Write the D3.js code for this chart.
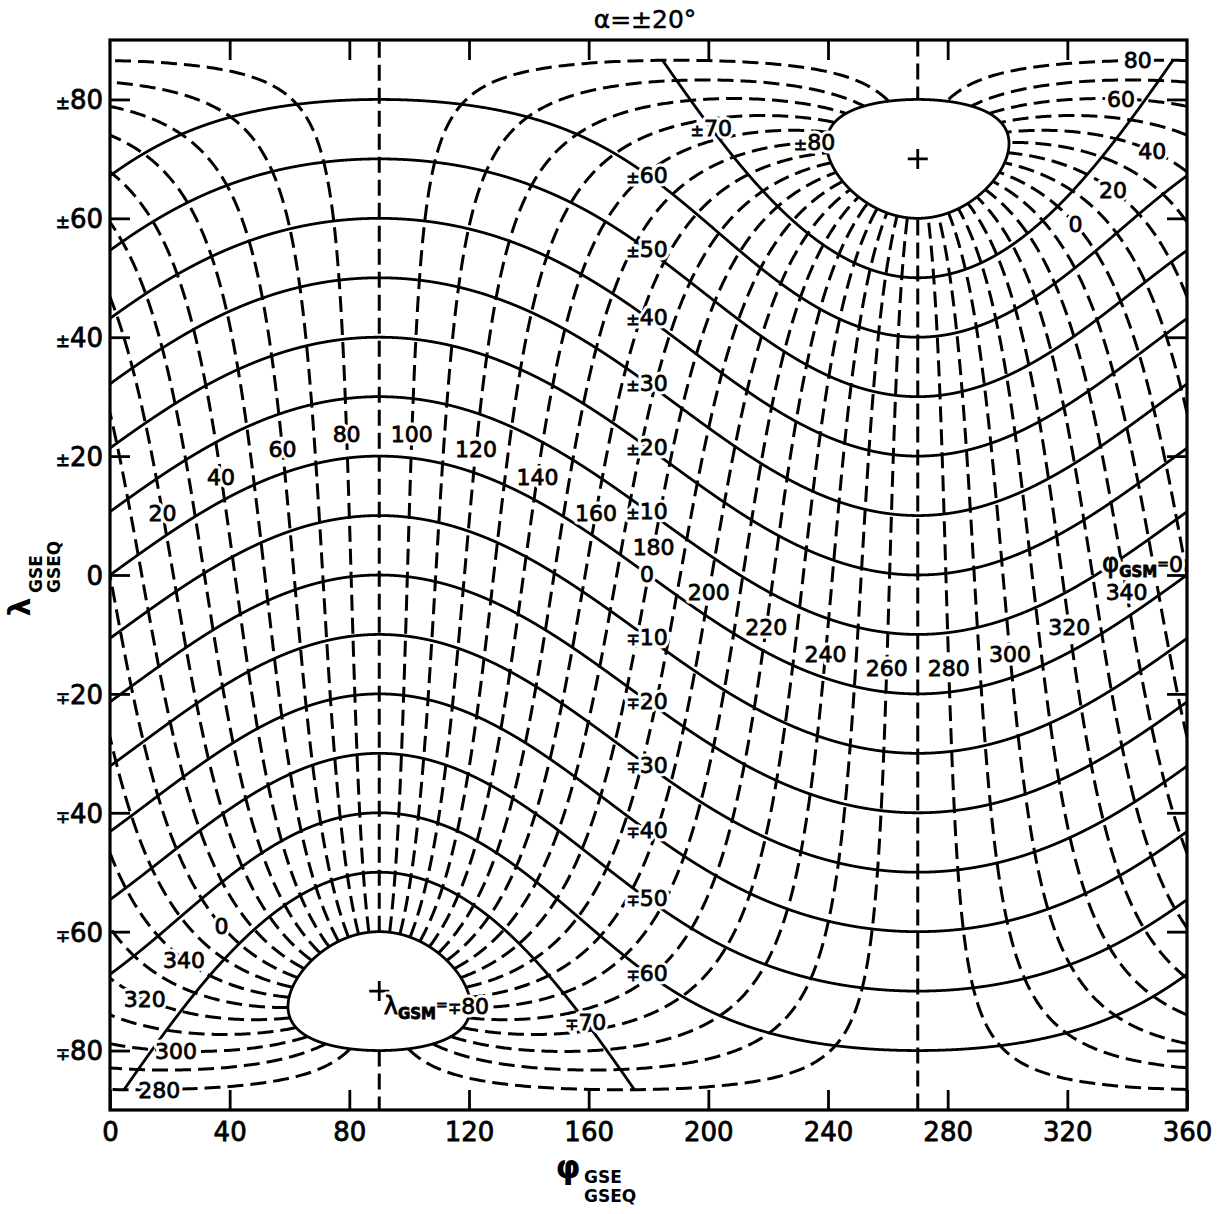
<!DOCTYPE html>
<html><head><meta charset="utf-8">
<script src="https://cdn.jsdelivr.net/npm/d3@7"></script>
<style>body{margin:0;background:#fff}svg{display:block}</style>
</head><body>
<svg id="c" width="1225" height="1214"></svg>
<script>
// ---------- data ----------
const ALPHA = 20; // dipole tilt angle (deg)
const gsmLatitudes = [-80,-70,-60,-50,-40,-30,-20,-10,0,10,20,30,40,50,60,70,80];      // solid lines λGSM
const gsmLongitudes = [0,10,20,30,40,50,60,70,80,90,100,110,120,130,140,150,160,170,
                       180,190,200,210,220,230,240,250,260,270,280,290,300,310,320,330,340,350]; // dashed lines φGSM
const xTickValues = [0,40,80,120,160,200,240,280,320,360];
const yTickValues = [80,60,40,20,0,-20,-40,-60,-80];
const yTickSigns  = ["±","±","±","±","","∓","∓","∓","∓"];
const yTickNums   = ["80","60","40","20","0","20","40","60","80"];
const lonLabelValues = [20,40,60,80,100,120,140,160,180,200,220,240,260,280,300,320,340];
const lonLabelLat = 4;
const northLonLabels = [80,60,40,20,0];
const northLonLabelLats = [70.7,71.4,65.8,65.6,65.8];
const columnLatLabels = [60,50,40,30,20,10,0,-10,-20,-30,-40,-50,-60];

// ---------- setup ----------
const svg = d3.select("#c");
const x = d3.scaleLinear().domain([0,360]).range([110,1187]);
const y = d3.scaleLinear().domain([90,-90]).range([40,1110]);
const rad = Math.PI/180, ca = Math.cos(ALPHA*rad), sa = Math.sin(ALPHA*rad);
const FONT = "DejaVu Sans, Liberation Sans, sans-serif";

function gsmToGse(lon, lat){
  const cl = Math.cos(lat*rad);
  const xp = cl*Math.cos(lon*rad), yp = cl*Math.sin(lon*rad), zp = Math.sin(lat*rad);
  const X = xp, Y = yp*ca - zp*sa, Z = yp*sa + zp*ca;
  if (Math.hypot(X,Y) < 1e-7) return null;
  let phi = Math.atan2(Y,X)/rad; phi = ((phi%360)+360)%360;
  return [phi, Math.asin(Math.max(-1,Math.min(1,Z)))/rad];
}
function latOnLine(v, phi){ // GSE latitude of line λGSM=v at GSE longitude phi
  const A = ca, B = -Math.sin(phi*rad)*sa, R = Math.hypot(A,B), d = Math.atan2(B,A);
  return (Math.asin(Math.sin(v*rad)/R) - d)/rad;
}
function segmentize(pts){
  const segs=[]; let cur=[], prev=null;
  for (const p of pts){
    if (!p){ if(cur.length>1) segs.push(cur); cur=[]; prev=null; continue; }
    if (prev){
      const d = p[0]-prev[0];
      if (Math.abs(d) > 270){
        const eA = d<0?360:0, eB = d<0?0:360, q0 = d<0? p[0]+360 : p[0]-360;
        const t = (eA-prev[0])/(q0-prev[0]);
        const lc = prev[1] + t*(p[1]-prev[1]);
        cur.push([eA,lc]); segs.push(cur); cur=[[eB,lc]];
      } else if (Math.abs(d) > 90){
        if (cur.length>1) segs.push(cur); cur=[];
      }
    }
    cur.push(p); prev=p;
  }
  if (cur.length>1) segs.push(cur);
  return segs;
}
const line = d3.line().x(d=>x(d[0])).y(d=>y(d[1]));

svg.append("clipPath").attr("id","clip").append("rect")
  .attr("x",x(0)).attr("y",y(90)).attr("width",x(360)-x(0)).attr("height",y(-90)-y(90));
const plot = svg.append("g").attr("clip-path","url(#clip)");

// dashed lines: constant φGSM, λGSM in [-80,80]
gsmLongitudes.forEach(lon=>{
  const pts=[];
  for (let k=0;k<=1600;k++){ pts.push(gsmToGse(lon, -80 + k*0.1)); }
  segmentize(pts).forEach(s=>{
    plot.append("path").attr("d",line(s)).attr("fill","none").attr("stroke","#000")
      .attr("stroke-width",3).attr("stroke-dasharray","16,7");
  });
});
// solid lines: constant λGSM
gsmLatitudes.forEach(lat=>{
  let a=0,b=360;
  if (lat===70){a=100;b=440;} if (lat===-70){a=280;b=620;}
  const n=Math.round((b-a)/0.1), pts=[];
  for (let k=0;k<=n;k++){ pts.push(gsmToGse(a+k*0.1, lat)); }
  segmentize(pts).forEach(s=>{
    plot.append("path").attr("d",line(s)).attr("fill","none").attr("stroke","#000")
      .attr("stroke-width",2.8);
  });
});

// pole markers
[90,-90].forEach(lat=>{
  const p = gsmToGse(0,lat), cx=x(p[0]), cy=y(p[1]);
  svg.append("path").attr("d",`M${cx-10},${cy}H${cx+10}M${cx},${cy-10}V${cy+10}`)
    .attr("stroke","#000").attr("stroke-width",2.8);
});

// ---------- labels ----------
const labels = svg.append("g");
function addLabel(cx, cy, parts, size, anchor){
  const base = cy + 0.36*size;
  [true,false].forEach(halo=>{
    const t = labels.append("text").attr("x",cx).attr("y",base)
      .attr("text-anchor",anchor||"middle").attr("font-family",FONT).attr("font-size",size);
    if (halo) t.attr("fill","#fff").attr("stroke","#fff").attr("stroke-width",7).attr("stroke-linejoin","round");
    else t.attr("fill","#000").attr("stroke","#000").attr("stroke-width",0.8);
    parts.forEach(pt=>{
      const s = t.append("tspan").text(pt.t);
      if (pt.size) s.attr("font-size",pt.size);
      if (pt.dy) s.attr("dy",pt.dy);
      if (pt.bold) s.attr("font-weight","bold");
    });
  });
}
function signParts(v){
  const parts=[];
  if (v>0) parts.push({t:"±",size:16}); else if (v<0) parts.push({t:"∓",size:16});
  parts.push({t:String(Math.abs(v))});
  return parts;
}
// dashed-line labels near the GSM equator
lonLabelValues.forEach(v=>{
  const p = gsmToGse(v, v===180?5:lonLabelLat);
  addLabel(x(p[0]), y(p[1]), [{t:String(v)}], 22);
});
// dashed-line labels near the poles (north, mirrored south)
northLonLabels.forEach((v,i)=>{
  const pn = gsmToGse(v, northLonLabelLats[i]);
  addLabel(x(pn[0]), y(pn[1]), [{t:String(v)}], 22);
  const vs = (360-v)%360, ps = gsmToGse(vs, -northLonLabelLats[i]);
  addLabel(x(ps[0]), y(ps[1]), [{t:String(vs)}], 22);
});
// solid-line labels
columnLatLabels.forEach(v=>{
  const phi = 179.5;
  addLabel(x(phi), y(latOnLine(v,phi)), signParts(v), 22);
});
addLabel(x(201), y(latOnLine(70,201)), signParts(70), 22);
addLabel(x(159), y(latOnLine(-70,159)), signParts(-70), 22);
addLabel(x(235.5), y(72.8), signParts(80), 22);
// λGSM=∓80 on the southern boundary
addLabel(x(91.5), y(-72.5), [{t:"λ",size:24},{t:"GSM",size:15,dy:5,bold:true},{t:"=",size:14,dy:-9},{t:"∓",size:16,dy:4},{t:"80"}], 22, "start");
// φGSM=0 at right edge
{
  const p = gsmToGse(0, 2);
  addLabel(x(p[0])-2, y(1.8), [{t:"φ",size:26},{t:"GSM",size:15,dy:5,bold:true},{t:"=",size:14,dy:-8},{t:"0",size:22,dy:3}], 22, "end");
}

// ---------- axes & frame ----------
function styleAxis(g){
  g.select(".domain").remove();
  g.selectAll(".tick line").attr("stroke","#000").attr("stroke-width",2.8);
  g.attr("font-family",FONT);
}
const gb = svg.append("g").attr("transform",`translate(0,${y(-90)})`)
  .call(d3.axisBottom(x).tickValues(xTickValues).tickSizeInner(-20).tickSizeOuter(0).tickPadding(13));
styleAxis(gb); gb.attr("font-size",26);
gb.selectAll(".tick text").attr("fill","#000").attr("stroke","#000").attr("stroke-width",0.8);

const gt = svg.append("g").attr("transform",`translate(0,${y(90)})`)
  .call(d3.axisTop(x).tickValues(xTickValues.slice(1,-1)).tickSizeInner(-20).tickSizeOuter(0).tickFormat(""));
styleAxis(gt);

const gl = svg.append("g").attr("transform",`translate(${x(0)},0)`)
  .call(d3.axisLeft(y).tickValues(yTickValues).tickSizeInner(-20).tickSizeOuter(0).tickPadding(7));
styleAxis(gl); gl.attr("font-size",26);
gl.selectAll(".tick text").each(function(d,i){
  const t=d3.select(this).text("").attr("fill","#000").attr("stroke","#000").attr("stroke-width",0.8).attr("dy","0.36em");
  if (yTickSigns[i]) t.append("tspan").attr("font-size",17).text(yTickSigns[i]);
  t.append("tspan").text(yTickNums[i]);
});

const gr = svg.append("g").attr("transform",`translate(${x(360)},0)`)
  .call(d3.axisRight(y).tickValues(yTickValues).tickSizeInner(-20).tickSizeOuter(0).tickFormat(""));
styleAxis(gr);

svg.append("rect").attr("x",x(0)).attr("y",y(90)).attr("width",x(360)-x(0)).attr("height",y(-90)-y(90))
  .attr("fill","none").attr("stroke","#000").attr("stroke-width",3.2);

// ---------- titles ----------
svg.append("text").attr("x",645).attr("y",28).attr("text-anchor","middle")
  .attr("font-family",FONT).attr("font-size",25).attr("fill","#000").attr("stroke","#000").attr("stroke-width",0.5)
  .text("α=±20°");
// x-axis title
const xt = svg.append("g").attr("font-family",FONT).attr("fill","#000");
xt.append("text").attr("x",568).attr("y",1178).attr("text-anchor","middle").attr("font-size",32)
  .attr("font-weight","bold").text("φ");
xt.append("text").attr("x",584).attr("y",1183).attr("font-size",17).attr("font-weight","bold").text("GSE");
xt.append("text").attr("x",584).attr("y",1202).attr("font-size",17).attr("font-weight","bold").text("GSEQ");
// y-axis title
const yt = svg.append("g").attr("transform","translate(0,580) rotate(-90)").attr("font-family",FONT).attr("fill","#000");
yt.append("text").attr("x",-27).attr("y",30).attr("text-anchor","middle").attr("font-size",30)
  .attr("font-weight","bold").text("λ");
yt.append("text").attr("x",-13).attr("y",42).attr("font-size",17).attr("font-weight","bold").text("GSE");
yt.append("text").attr("x",-13).attr("y",60).attr("font-size",17).attr("font-weight","bold").text("GSEQ");
</script>
</body></html>
